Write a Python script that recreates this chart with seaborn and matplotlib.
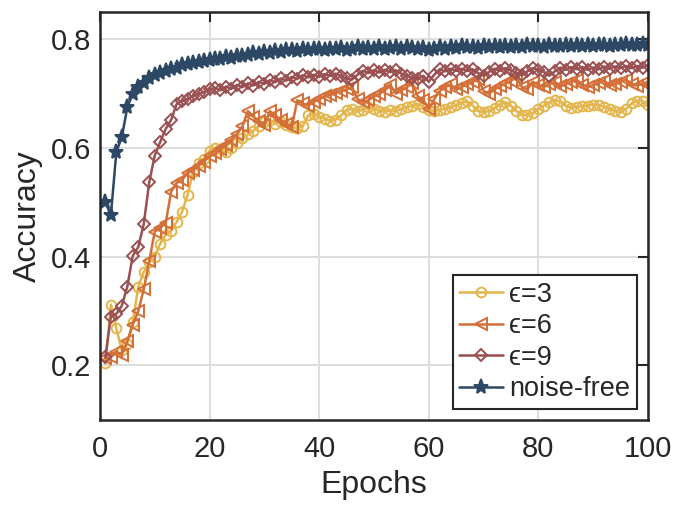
import numpy as np
import pandas as pd
import matplotlib
matplotlib.use("Agg")
import matplotlib.pyplot as plt
import seaborn as sns

epochs = list(range(1, 101))

acc_eps3 = [0.204, 0.312, 0.268, 0.228, 0.240, 0.280, 0.345, 0.372, 0.390, 0.400,
            0.424, 0.440, 0.448, 0.464, 0.483, 0.514, 0.556, 0.572, 0.580, 0.595,
            0.600, 0.598, 0.593, 0.600, 0.610, 0.618, 0.625, 0.632, 0.640, 0.648,
            0.652, 0.645, 0.648, 0.642, 0.638, 0.637, 0.640, 0.660, 0.663, 0.658,
            0.654, 0.650, 0.652, 0.660, 0.670, 0.672, 0.668, 0.670, 0.675, 0.672,
            0.668, 0.667, 0.670, 0.668, 0.672, 0.675, 0.678, 0.681, 0.676, 0.670,
            0.668, 0.670, 0.672, 0.675, 0.679, 0.683, 0.686, 0.678, 0.668, 0.666,
            0.668, 0.674, 0.680, 0.684, 0.678, 0.668, 0.661, 0.660, 0.664, 0.672,
            0.678, 0.684, 0.688, 0.686, 0.678, 0.674, 0.676, 0.677, 0.678, 0.680,
            0.679, 0.676, 0.672, 0.668, 0.666, 0.672, 0.682, 0.687, 0.686, 0.679]

acc_eps6 = [0.213, 0.215, 0.225, 0.220, 0.245, 0.275, 0.300, 0.340, 0.392, 0.446,
            0.453, 0.462, 0.520, 0.536, 0.541, 0.555, 0.560, 0.567, 0.575, 0.585,
            0.590, 0.598, 0.605, 0.615, 0.625, 0.640, 0.668, 0.658, 0.650, 0.642,
            0.668, 0.660, 0.652, 0.645, 0.638, 0.688, 0.682, 0.678, 0.685, 0.690,
            0.695, 0.698, 0.702, 0.705, 0.708, 0.712, 0.690, 0.685, 0.688, 0.695,
            0.700, 0.706, 0.716, 0.700, 0.706, 0.712, 0.720, 0.695, 0.688, 0.672,
            0.690, 0.705, 0.712, 0.717, 0.708, 0.712, 0.718, 0.722, 0.727, 0.705,
            0.700, 0.708, 0.714, 0.719, 0.724, 0.730, 0.712, 0.708, 0.722, 0.716,
            0.712, 0.718, 0.722, 0.714, 0.718, 0.722, 0.726, 0.716, 0.712, 0.716,
            0.720, 0.724, 0.716, 0.718, 0.722, 0.726, 0.718, 0.715, 0.719, 0.717]

acc_eps9 = [0.215, 0.290, 0.295, 0.310, 0.345, 0.402, 0.418, 0.460, 0.537, 0.586,
            0.611, 0.635, 0.652, 0.681, 0.687, 0.690, 0.696, 0.700, 0.703, 0.708,
            0.711, 0.706, 0.713, 0.709, 0.716, 0.712, 0.719, 0.715, 0.722, 0.718,
            0.725, 0.721, 0.728, 0.724, 0.731, 0.727, 0.734, 0.730, 0.735, 0.731,
            0.736, 0.733, 0.737, 0.732, 0.728, 0.726, 0.735, 0.742, 0.738, 0.743,
            0.739, 0.744, 0.740, 0.743, 0.737, 0.733, 0.729, 0.727, 0.733, 0.722,
            0.735, 0.745, 0.741, 0.746, 0.742, 0.746, 0.742, 0.745, 0.738, 0.733,
            0.740, 0.746, 0.742, 0.747, 0.743, 0.738, 0.734, 0.741, 0.747, 0.744,
            0.740, 0.733, 0.741, 0.748, 0.744, 0.749, 0.745, 0.749, 0.744, 0.748,
            0.745, 0.750, 0.746, 0.750, 0.747, 0.751, 0.747, 0.751, 0.748, 0.752]

acc_free = [0.501, 0.476, 0.593, 0.620, 0.675, 0.700, 0.712, 0.720, 0.728, 0.735,
            0.738, 0.742, 0.745, 0.748, 0.752, 0.754, 0.757, 0.759, 0.761, 0.762,
            0.764, 0.763, 0.767, 0.766, 0.770, 0.769, 0.772, 0.774, 0.773, 0.776,
            0.775, 0.778, 0.777, 0.780, 0.781, 0.779, 0.782, 0.780, 0.783, 0.782,
            0.781, 0.783, 0.782, 0.784, 0.781, 0.783, 0.785, 0.782, 0.784, 0.783,
            0.785, 0.782, 0.784, 0.786, 0.783, 0.785, 0.784, 0.782, 0.784, 0.781,
            0.783, 0.785, 0.782, 0.786, 0.784, 0.787, 0.785, 0.786, 0.784, 0.787,
            0.785, 0.788, 0.786, 0.787, 0.785, 0.788, 0.786, 0.789, 0.787, 0.788,
            0.786, 0.789, 0.787, 0.788, 0.790, 0.787, 0.789, 0.788, 0.790, 0.788,
            0.789, 0.790, 0.788, 0.790, 0.789, 0.791, 0.789, 0.790, 0.791, 0.790]

labels = ["\u03f5=3", "\u03f5=6", "\u03f5=9", "noise-free"]
colors = ["#E3B54B", "#D46F37", "#9A4F51", "#2C4864"]
markers = ["o", "<", "D", "*"]
msizes = [7, 8, 6, 11]
series = [acc_eps3, acc_eps6, acc_eps9, acc_free]

x_ticks = [0, 20, 40, 60, 80, 100]
y_ticks = [0.2, 0.4, 0.6, 0.8]

sns.set_style("white")
plt.rcParams["font.family"] = ["Liberation Sans", "DejaVu Sans"]

fig = plt.figure(figsize=(6.75, 5.07), dpi=100)
ax = fig.add_axes([0.148, 0.172, 0.812, 0.804])

for lab, col, mk, ms, vals in zip(labels, colors, markers, msizes, series):
    df = pd.DataFrame({"Epochs": epochs, "Accuracy": vals})
    face = col if mk == "*" else "none"
    sns.lineplot(data=df, x="Epochs", y="Accuracy", ax=ax, color=col, label=lab,
                 marker=mk, markersize=ms, markerfacecolor=face,
                 markeredgecolor=col, markeredgewidth=1.4, linewidth=1.8)

ax.set_xlim(0, 100)
ax.set_ylim(0.1, 0.85)
ax.set_xticks(x_ticks)
ax.set_yticks(y_ticks)
ax.set_yticklabels([f"{v:.1f}" for v in y_ticks])
ax.grid(True, color="#dedede", linewidth=1.4)
ax.set_axisbelow(True)
for s in ax.spines.values():
    s.set_visible(True)
    s.set_color("#262626")
    s.set_linewidth(1.8)
ax.tick_params(direction="in", length=7, width=1.5, top=True, right=True,
               labelsize=21, colors="#262626")
ax.tick_params(axis="x", pad=11)
ax.tick_params(axis="y", pad=6)
ax.set_xlabel("Epochs", fontsize=23, color="#262626", labelpad=5)
ax.set_ylabel("Accuracy", fontsize=23, color="#262626", labelpad=6)

leg = ax.legend(loc="lower right", fontsize=19.5, frameon=True, fancybox=False,
                edgecolor="#262626", framealpha=1, borderpad=0.25,
                handlelength=1.6, handletextpad=0.25, labelspacing=0.2,
                borderaxespad=0.4)
leg.get_frame().set_linewidth(1.5)

fig.savefig("out.png", dpi=100)
